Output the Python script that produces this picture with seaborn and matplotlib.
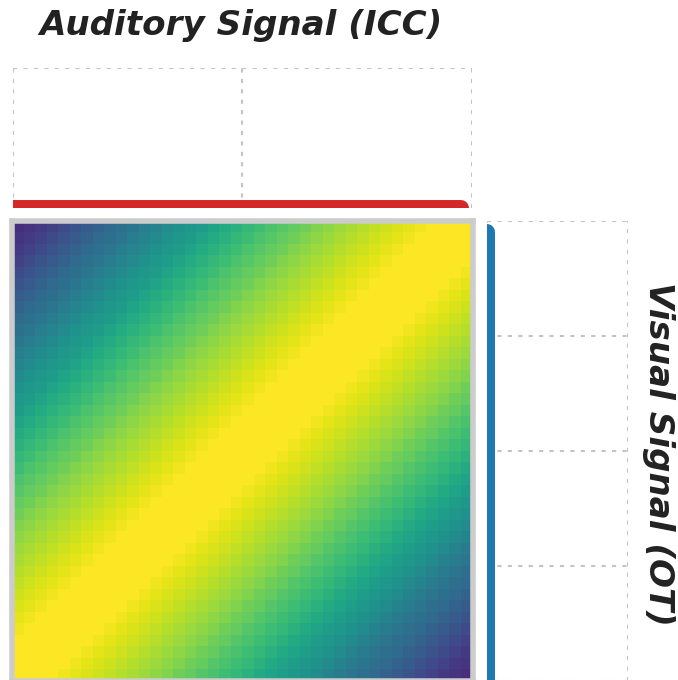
import matplotlib

matplotlib.use("Agg")
import matplotlib.pyplot as plt
import numpy as np
import seaborn as sns

N_BINS = 40

# colour level per cell, looked up by offset = column - row (rows counted from the bottom)
# offsets -39 .. -1 (upper-left triangle, corner first)
upper_left_levels = [
    0.13, 0.15, 0.17, 0.195, 0.225, 0.255, 0.285, 0.31, 0.34, 0.365,
    0.39, 0.42, 0.45, 0.475, 0.505, 0.53, 0.55, 0.58, 0.61, 0.64,
    0.665, 0.685, 0.715, 0.735, 0.76, 0.78, 0.81, 0.83, 0.85, 0.87,
    0.89, 0.905, 0.925, 0.945, 0.96, 0.98, 0.995, 1.0, 1.0,
]
# offsets 0 .. 39 (diagonal first, lower-right corner last)
lower_right_levels = [
    1.0, 1.0, 1.0, 0.995, 0.978, 0.96, 0.945, 0.925, 0.906, 0.887,
    0.868, 0.848, 0.829, 0.81, 0.781, 0.762, 0.734, 0.713, 0.686, 0.665,
    0.638, 0.609, 0.58, 0.551, 0.528, 0.504, 0.475, 0.446, 0.417, 0.389,
    0.363, 0.341, 0.312, 0.283, 0.254, 0.225, 0.196, 0.168, 0.149, 0.13,
]

auditory_icc = [0.0] * N_BINS
visual_ot = [0.0] * N_BINS

W, H = 678, 680
fig = plt.figure(figsize=(W / 100, H / 100), dpi=100)


def px_axes(left, top, right, bottom):
    return fig.add_axes([left / W, 1 - bottom / H, (right - left) / W, (bottom - top) / H])


# joint map
levels = np.array(upper_left_levels + lower_right_levels)
rows, cols = np.indices((N_BINS, N_BINS))
grid = levels[cols - rows + N_BINS - 1]

ax_heat = px_axes(12.3, 220.5, 472.5, 680.5)
sns.heatmap(grid, cmap="viridis", vmin=0, vmax=1, cbar=False,
            xticklabels=False, yticklabels=False, ax=ax_heat)
ax_heat.set_ylim(0, N_BINS)
for spine in ax_heat.spines.values():
    spine.set_visible(True)
    spine.set_color("#cccccc")
    spine.set_linewidth(4)

# marginals
positions = np.arange(N_BINS)
ax_top = px_axes(12.5, 68, 472, 208)
sns.lineplot(x=positions, y=auditory_icc, color="#d62728", linewidth=11.5,
             solid_capstyle="round", ax=ax_top)
ax_top.set_xlim(0, N_BINS)
ax_top.set_ylim(0, 1)
ax_top.set_xticks([0, 20, 40])
ax_top.set_yticks([0, 1])

ax_right = px_axes(487, 220.5, 627.5, 680.5)
sns.lineplot(x=visual_ot, y=positions, orient="y", color="#1f77b4", linewidth=11.5,
             solid_capstyle="round", ax=ax_right)
ax_right.set_xlim(0, 1)
ax_right.set_ylim(0, N_BINS)
ax_right.set_xticks([0, 1])
ax_right.set_yticks([0, 10, 20, 30, 40])

for ax in (ax_top, ax_right):
    ax.grid(True, color="#c4c4c4", linestyle=(0, (2, 3)), linewidth=1.5)
    ax.set_axisbelow(True)
    ax.tick_params(length=0, labelbottom=False, labelleft=False)
    ax.set_xlabel("")
    ax.set_ylabel("")
    for spine in ax.spines.values():
        spine.set_visible(False)

fig.text(241 / W, 1 - 26 / H, "Auditory Signal (ICC)", ha="center", va="center",
         fontsize=24.6, fontweight="bold", fontstyle="italic", color="#222222")
fig.text(658 / W, 1 - 454 / H, "Visual Signal (OT)", ha="center", va="center",
         rotation=-90, fontsize=24.6, fontweight="bold", fontstyle="italic", color="#222222")

fig.savefig("out.png", dpi=100)
